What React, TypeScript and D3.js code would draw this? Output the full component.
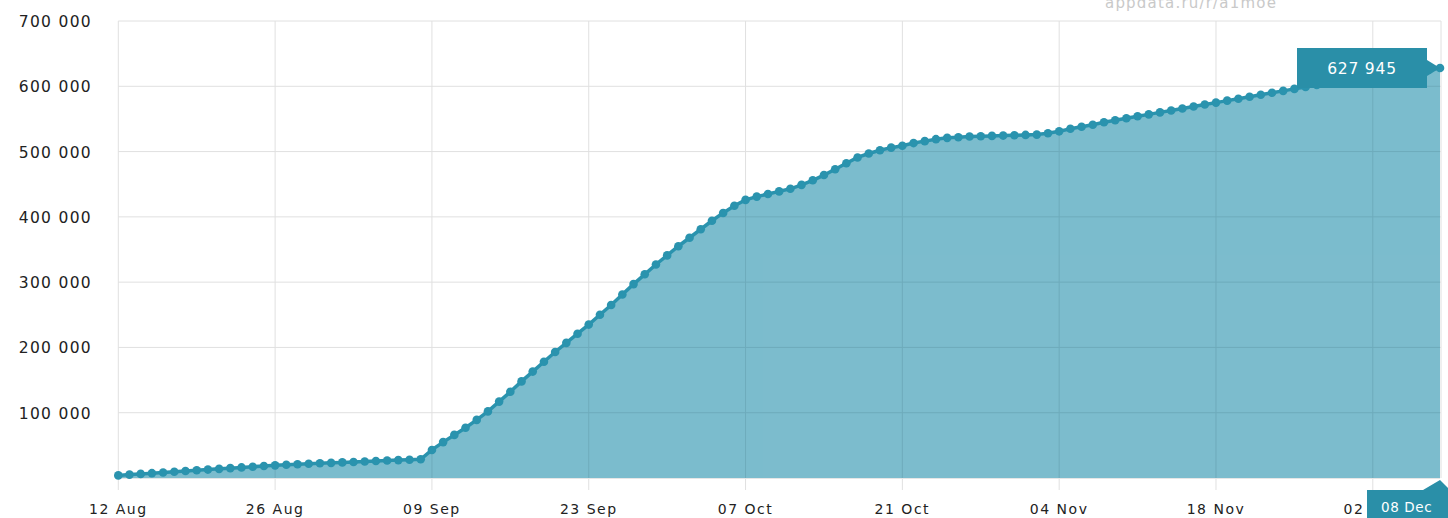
import React from 'react';
import * as d3 from 'd3';

// daily cumulative installs, 12 Aug .. 08 Dec
const startDate = '2015-08-12';
const installs = [
  4000, 5200, 6300, 7400, 8500, 9600, 10700, 11800, 12900, 14000,
  15100, 16200, 17300, 18400, 19400, 20200, 21000, 21800, 22500, 23200,
  23900, 24600, 25300, 26000, 26700, 27400, 28000, 28700,
  43000, 55000, 66000, 77000, 89000, 102000, 117000, 132000, 148000, 163000,
  178000, 193000, 207000, 221000, 235000, 250000, 265000, 281000, 297000, 312000,
  327000, 341000, 355000, 368000, 381000, 394000, 406000,
  417000, 426000, 431000, 435000, 439000, 443000, 449000, 456000, 464000, 473000,
  482000, 491000, 497000, 502000, 506000, 509000, 513000, 516000, 519000, 521000,
  522000, 523000, 523500, 524000, 524500, 525000, 525500, 526000, 528000, 531000,
  535000, 538000, 541000, 545000, 548000, 551000, 554000, 557000, 560000, 563000,
  566000, 569000, 572000, 575000, 578000, 581000, 584000, 587000, 590000, 593000,
  596000, 599000, 602000, 605000, 608000, 611000, 613000, 615000, 617000, 619000,
  621000, 623000, 625500, 627945,
];
const yTicks = [100000, 200000, 300000, 400000, 500000, 600000, 700000];
const xTickDates = ['2015-08-12', '2015-08-26', '2015-09-09', '2015-09-23', '2015-10-07',
  '2015-10-21', '2015-11-04', '2015-11-18', '2015-12-02'];
const lastLabel = '08 Dec';
const watermark = 'appdata.ru/r/a1moe';

const W = 1448;
const H = 518;
const lineColor = '#2a93ae';
const areaColor = '#7cbccd';
const gridColor = '#e0e0e0';
const font = '"DejaVu Sans", Verdana, sans-serif';

type Pt = { date: Date; value: number };

export default function App() {
  const t0 = d3.utcParse('%Y-%m-%d')(startDate) as Date;
  const data: Pt[] = installs.map((v, i) => ({ date: d3.utcDay.offset(t0, i), value: v }));
  const last = data[data.length - 1];

  const x = d3.scaleUtc().domain([t0, last.date]).range([118.3, 1440]);
  const y = d3.scaleLinear().domain([0, 700000]).range([478, 21]);

  const area = d3.area<Pt>().x(d => x(d.date)).y0(y(0)).y1(d => y(d.value));
  const line = d3.line<Pt>().x(d => x(d.date)).y(d => y(d.value));

  const fmtY = (v: number) => d3.format(',')(v).replace(/,/g, ' ');
  const fmtX = d3.utcFormat('%d %b');
  const xTicks = xTickDates.map(s => d3.utcParse('%Y-%m-%d')(s) as Date);

  const x0 = x.range()[0];
  const lx = x(last.date);
  const ly = y(last.value);
  const areaD = area(data) as string;

  return (
    <svg width={W} height={H} style={{ position: 'absolute', left: 0, top: 0, display: 'block', background: '#fff' }}>
      <defs>
        <clipPath id="areaClip"><path d={areaD} /></clipPath>
      </defs>
      <text x={1105} y={8} fill="#c9c9c9" fontFamily={font} fontSize={15} letterSpacing={1.2}>{watermark}</text>

      {/* grid */}
      {yTicks.map(t => (
        <line key={t} x1={x0} x2={lx + 1} y1={y(t)} y2={y(t)} stroke={gridColor} strokeWidth={1} />
      ))}
      {xTicks.map(t => (
        <line key={+t} x1={x(t)} x2={x(t)} y1={y(700000)} y2={490} stroke={gridColor} strokeWidth={1} />
      ))}
      <line x1={lx + 1} x2={lx + 1} y1={y(700000)} y2={y(0)} stroke={gridColor} />

      <path d={areaD} fill={areaColor} />
      <g clipPath="url(#areaClip)" opacity={0.3}>
        {xTicks.map(t => (
          <line key={+t} x1={x(t)} x2={x(t)} y1={y(700000)} y2={y(0)} stroke="#4f8593" strokeWidth={1} />
        ))}
        {yTicks.map(t => (
          <line key={t} x1={x0} x2={lx} y1={y(t)} y2={y(t)} stroke="#4f8593" strokeWidth={1} />
        ))}
      </g>
      <line x1={x0} x2={lx} y1={y(0) + 0.5} y2={y(0) + 0.5} stroke="#e6e6e6" />
      <path d={line(data) as string} fill="none" stroke={lineColor} strokeWidth={3.5} />
      {data.map((d, i) => (
        <circle key={i} cx={x(d.date)} cy={y(d.value)} r={4.3} fill={lineColor} />
      ))}

      {/* y labels */}
      {yTicks.map(t => (
        <text key={t} x={92} y={y(t) + 6} textAnchor="end" fill="#222" fontFamily={font} fontSize={15.5} letterSpacing={1.3}>{fmtY(t)}</text>
      ))}
      {/* x labels */}
      {xTicks.map(t => (
        <text key={+t} x={x(t)} y={514} textAnchor="middle" fill="#222" fontFamily={font} fontSize={14} letterSpacing={1.5}>{fmtX(t)}</text>
      ))}

      {/* value tooltip */}
      <path d={`M1297,48 H1427 V60 L${lx},${ly} L1427,76 V88 H1297 Z`} fill="#2a8fa8" />
      <text x={1362} y={74} textAnchor="middle" fill="#fff" fontFamily={font} fontSize={15.5} letterSpacing={0.8}>{fmtY(last.value)}</text>

      {/* date tooltip */}
      <path d={`M1367,490 H1423 L${lx},480 L${W},488 V${H} H1367 Z`} fill="#2a8fa8" />
      <text x={1381} y={512} fill="#fff" fontFamily={font} fontSize={13.5} letterSpacing={0.6}>{lastLabel}</text>
    </svg>
  );
}
